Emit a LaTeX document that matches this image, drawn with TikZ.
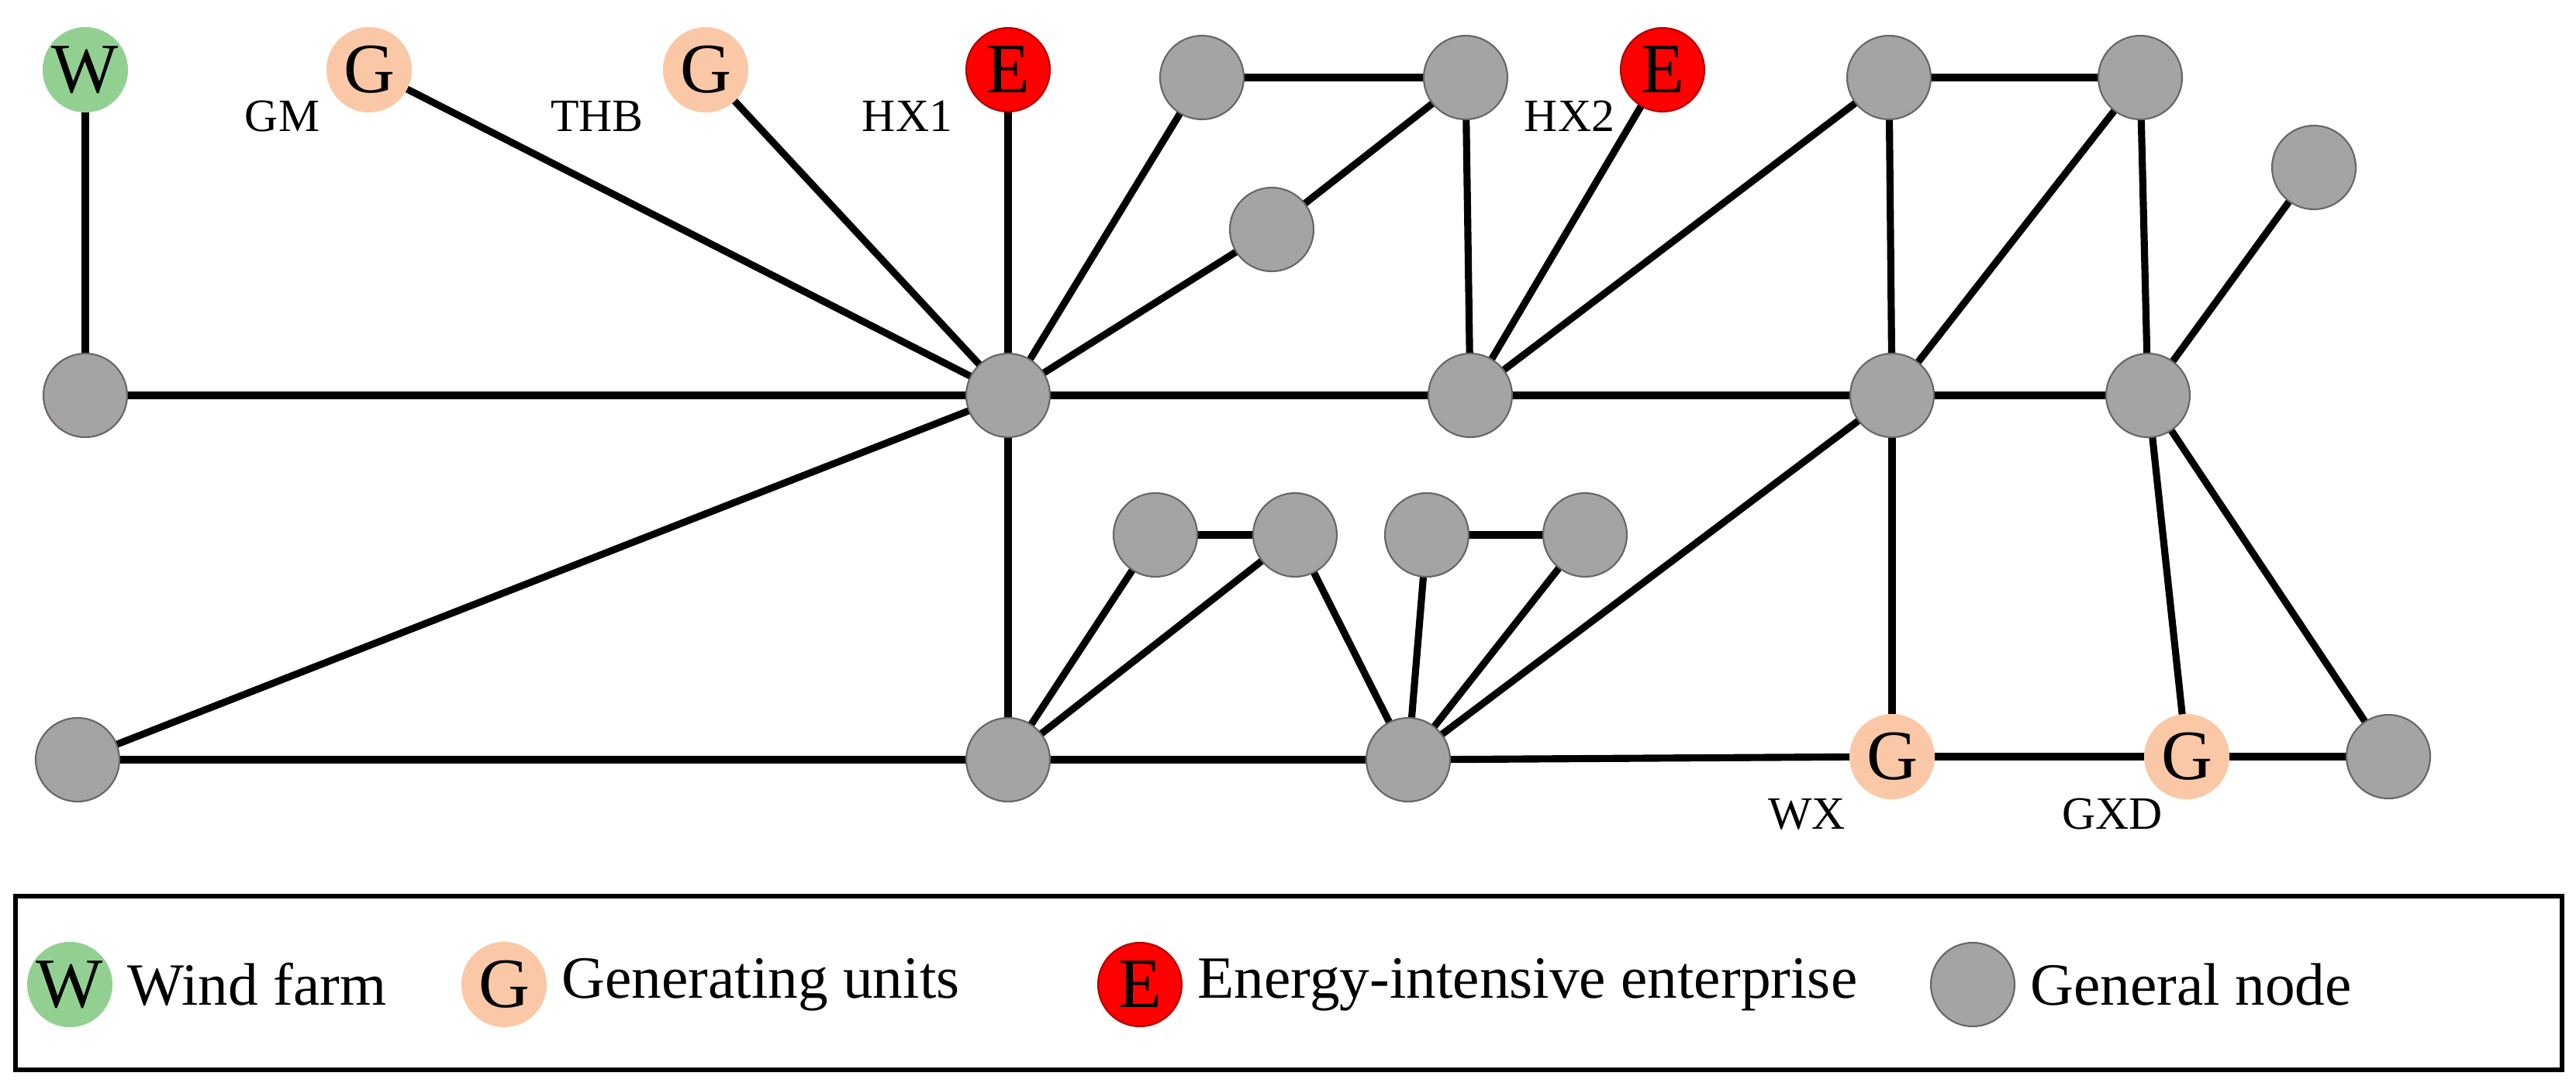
\documentclass[tikz,border=0pt]{standalone}
\usepackage{fontspec}
\setmainfont{Liberation Serif}
\usetikzlibrary{positioning}
\usetikzlibrary{backgrounds}
\definecolor{windgreen}{RGB}{146,208,146}
\definecolor{genpeach}{RGB}{250,200,166}
\definecolor{nodegray}{RGB}{166,164,162}
\tikzset{bus/.style={circle,minimum size=1.08cm,inner sep=0pt,fill=nodegray,draw=gray!80!black,line width=0.6pt},
        wind/.style={bus,fill=windgreen,draw=windgreen,font=\fontsize{26}{26}\selectfont},
        gen/.style={bus,fill=genpeach,draw=genpeach,font=\fontsize{26}{26}\selectfont},
        ent/.style={bus,fill=red,draw=red!70!black,font=\fontsize{26}{26}\selectfont},
        tag/.style={font=\fontsize{17}{17}\selectfont},
        line/.style={line width=2.6pt},
        legtext/.style={font=\fontsize{22}{22}\selectfont,anchor=west},
}
\begin{document}
\begin{tikzpicture}[x=0.02cm,y=-0.02cm]
    \useasboundingbox (0,0) rectangle (1661,698.5);

    % SOURCES AND LOADS
    \node[wind] (W) at (55,45) {W};
    \node[gen] (GM) at (238,45) {G};
    \node[gen] (THB) at (455,45) {G};
    \node[ent] (HX1) at (650,45) {E};
    \node[ent] (HX2) at (1072,45) {E};
    \node[gen] (WX) at (1220,488) {G};
    \node[gen] (GXD) at (1410,488) {G};
    \node[tag] at (182,75) {GM};
    \node[tag] at (385,75) {THB};
    \node[tag] at (585,75) {HX1};
    \node[tag] at (1012,75) {HX2};
    \node[tag] at (1165,525) {WX};
    \node[tag] at (1362,525) {GXD};

    % GENERAL NODES
    \node[bus] (a) at (775,50) {};
    \node[bus] (b) at (945,50) {};
    \node[bus] (c) at (820,148) {};
    \node[bus] (d) at (1218,50) {};
    \node[bus] (e) at (1380,50) {};
    \node[bus] (f) at (1492,108) {};
    \node[bus] (g1) at (55,255) {};
    \node[bus] (hub) at (650,255) {};
    \node[bus] (g2) at (948,255) {};
    \node[bus] (g3) at (1220,255) {};
    \node[bus] (g4) at (1385,255) {};
    \node[bus] (h1) at (745,345) {};
    \node[bus] (h2) at (835,345) {};
    \node[bus] (h3) at (920,345) {};
    \node[bus] (h4) at (1022,345) {};
    \node[bus] (l1) at (50,490) {};
    \node[bus] (l2) at (650,490) {};
    \node[bus] (l3) at (908,490) {};
    \node[bus] (l4) at (1540,488) {};

    % LINES
    \begin{scope}[on background layer]
    \foreach \u/\v in {W/g1,g1/hub,GM/hub,THB/hub,HX1/hub,a/hub,c/hub,c/b,a/b,b/g2,hub/g2,
                       hub/l1,hub/l2,l1/l2,l2/h1,l2/h2,l2/l3,h1/h2,h2/l3,l3/h3,l3/h4,h3/h4,
                       l3/g3,l3/WX,WX/GXD,GXD/l4,g2/HX2,g2/d,g2/g3,d/e,d/g3,e/g3,e/g4,f/g4,
                       g3/g4,g3/WX,g4/GXD,g4/l4}
        \draw[line] (\u.center) -- (\v.center);
    \end{scope}

    % LEGEND
    \draw[line width=1.5pt] (10,578) rectangle (1652,690);
    \node[wind] (legW) at (45,635) {W};
    \node[legtext, right=2pt of legW] {Wind farm};
    \node[gen] (legG) at (325,635) {G};
    \node[legtext, right=2pt of legG] {Generating units};
    \node[ent] (legE) at (735,635) {E};
    \node[legtext, right=2pt of legE] {Energy-intensive enterprise};
    \node[bus] (legN) at (1272,635) {};
    \node[legtext, right=2pt of legN] {General node};
\end{tikzpicture}
\end{document}
